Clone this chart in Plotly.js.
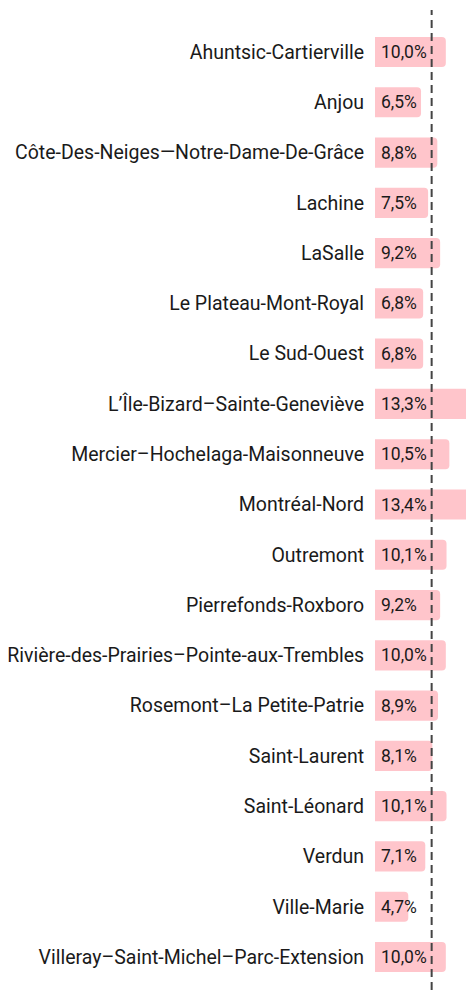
<!DOCTYPE html>
<html>
<head>
<meta charset="utf-8">
<script src="https://cdn.plot.ly/plotly-3.0.1.min.js"></script>
<style>html,body{margin:0;padding:0;background:#fff;}#chart{width:466px;height:990px;}</style>
</head>
<body>
<div id="chart"></div>
<script>
const boroughs = [
  "Ahuntsic-Cartierville",
  "Anjou",
  "Côte-Des-Neiges—Notre-Dame-De-Grâce",
  "Lachine",
  "LaSalle",
  "Le Plateau-Mont-Royal",
  "Le Sud-Ouest",
  "L’Île-Bizard–Sainte-Geneviève",
  "Mercier–Hochelaga-Maisonneuve",
  "Montréal-Nord",
  "Outremont",
  "Pierrefonds-Roxboro",
  "Rivière-des-Prairies–Pointe-aux-Trembles",
  "Rosemont–La Petite-Patrie",
  "Saint-Laurent",
  "Saint-Léonard",
  "Verdun",
  "Ville-Marie",
  "Villeray–Saint-Michel–Parc-Extension"
];
const rates = [10.0, 6.5, 8.8, 7.5, 9.2, 6.8, 6.8, 13.3, 10.5, 13.4, 10.1, 9.2, 10.0, 8.9, 8.1, 10.1, 7.1, 4.7, 10.0];
const referenceRate = 8.0;

const labels = rates.map(v => v.toFixed(1).replace('.', ',') + '%');

const trace = {
  type: 'bar',
  orientation: 'h',
  x: rates,
  y: boroughs,
  textposition: 'none',
  cliponaxis: true,
  marker: {color: '#ffc5cb', line: {width: 0}},
  hoverinfo: 'none'
};

const valueAnnotations = boroughs.map((b, i) => ({
  x: 0,
  y: b,
  xref: 'x',
  yref: 'y',
  text: labels[i],
  showarrow: false,
  xanchor: 'left',
  yanchor: 'middle',
  xshift: 4,
  font: {family: 'Roboto, sans-serif', size: 17.5, color: '#1a1a1a'}
}));

const layout = {
  width: 466,
  height: 990,
  margin: {l: 375, r: 0, t: 0, b: 0, pad: 0},
  paper_bgcolor: '#ffffff',
  plot_bgcolor: '#ffffff',
  showlegend: false,
  bargap: 0.4,
  barcornerradius: 4,
  font: {family: 'Roboto, sans-serif', color: '#1a1a1a'},
  xaxis: {
    range: [0, 12.85],
    showgrid: false,
    zeroline: false,
    showticklabels: false,
    ticks: '',
    showline: false,
    fixedrange: true
  },
  yaxis: {
    type: 'category',
    range: [18.656, -1.034],
    autorange: false,
    showgrid: false,
    zeroline: false,
    showline: false,
    ticks: 'outside',
    ticklen: 6,
    tickcolor: 'rgba(0,0,0,0)',
    tickfont: {family: 'Roboto, sans-serif', size: 19.5, color: '#1a1a1a'},
    fixedrange: true
  },
  annotations: valueAnnotations,
  shapes: [{
    type: 'line',
    xref: 'x',
    yref: 'paper',
    x0: referenceRate,
    x1: referenceRate,
    y0: 0,
    y1: 0.99,
    line: {color: '#444444', width: 2, dash: '8px,5px'},
    layer: 'above'
  }]
};

Plotly.newPlot('chart', [trace], layout, {displayModeBar: false, staticPlot: true});
</script>
</body>
</html>
